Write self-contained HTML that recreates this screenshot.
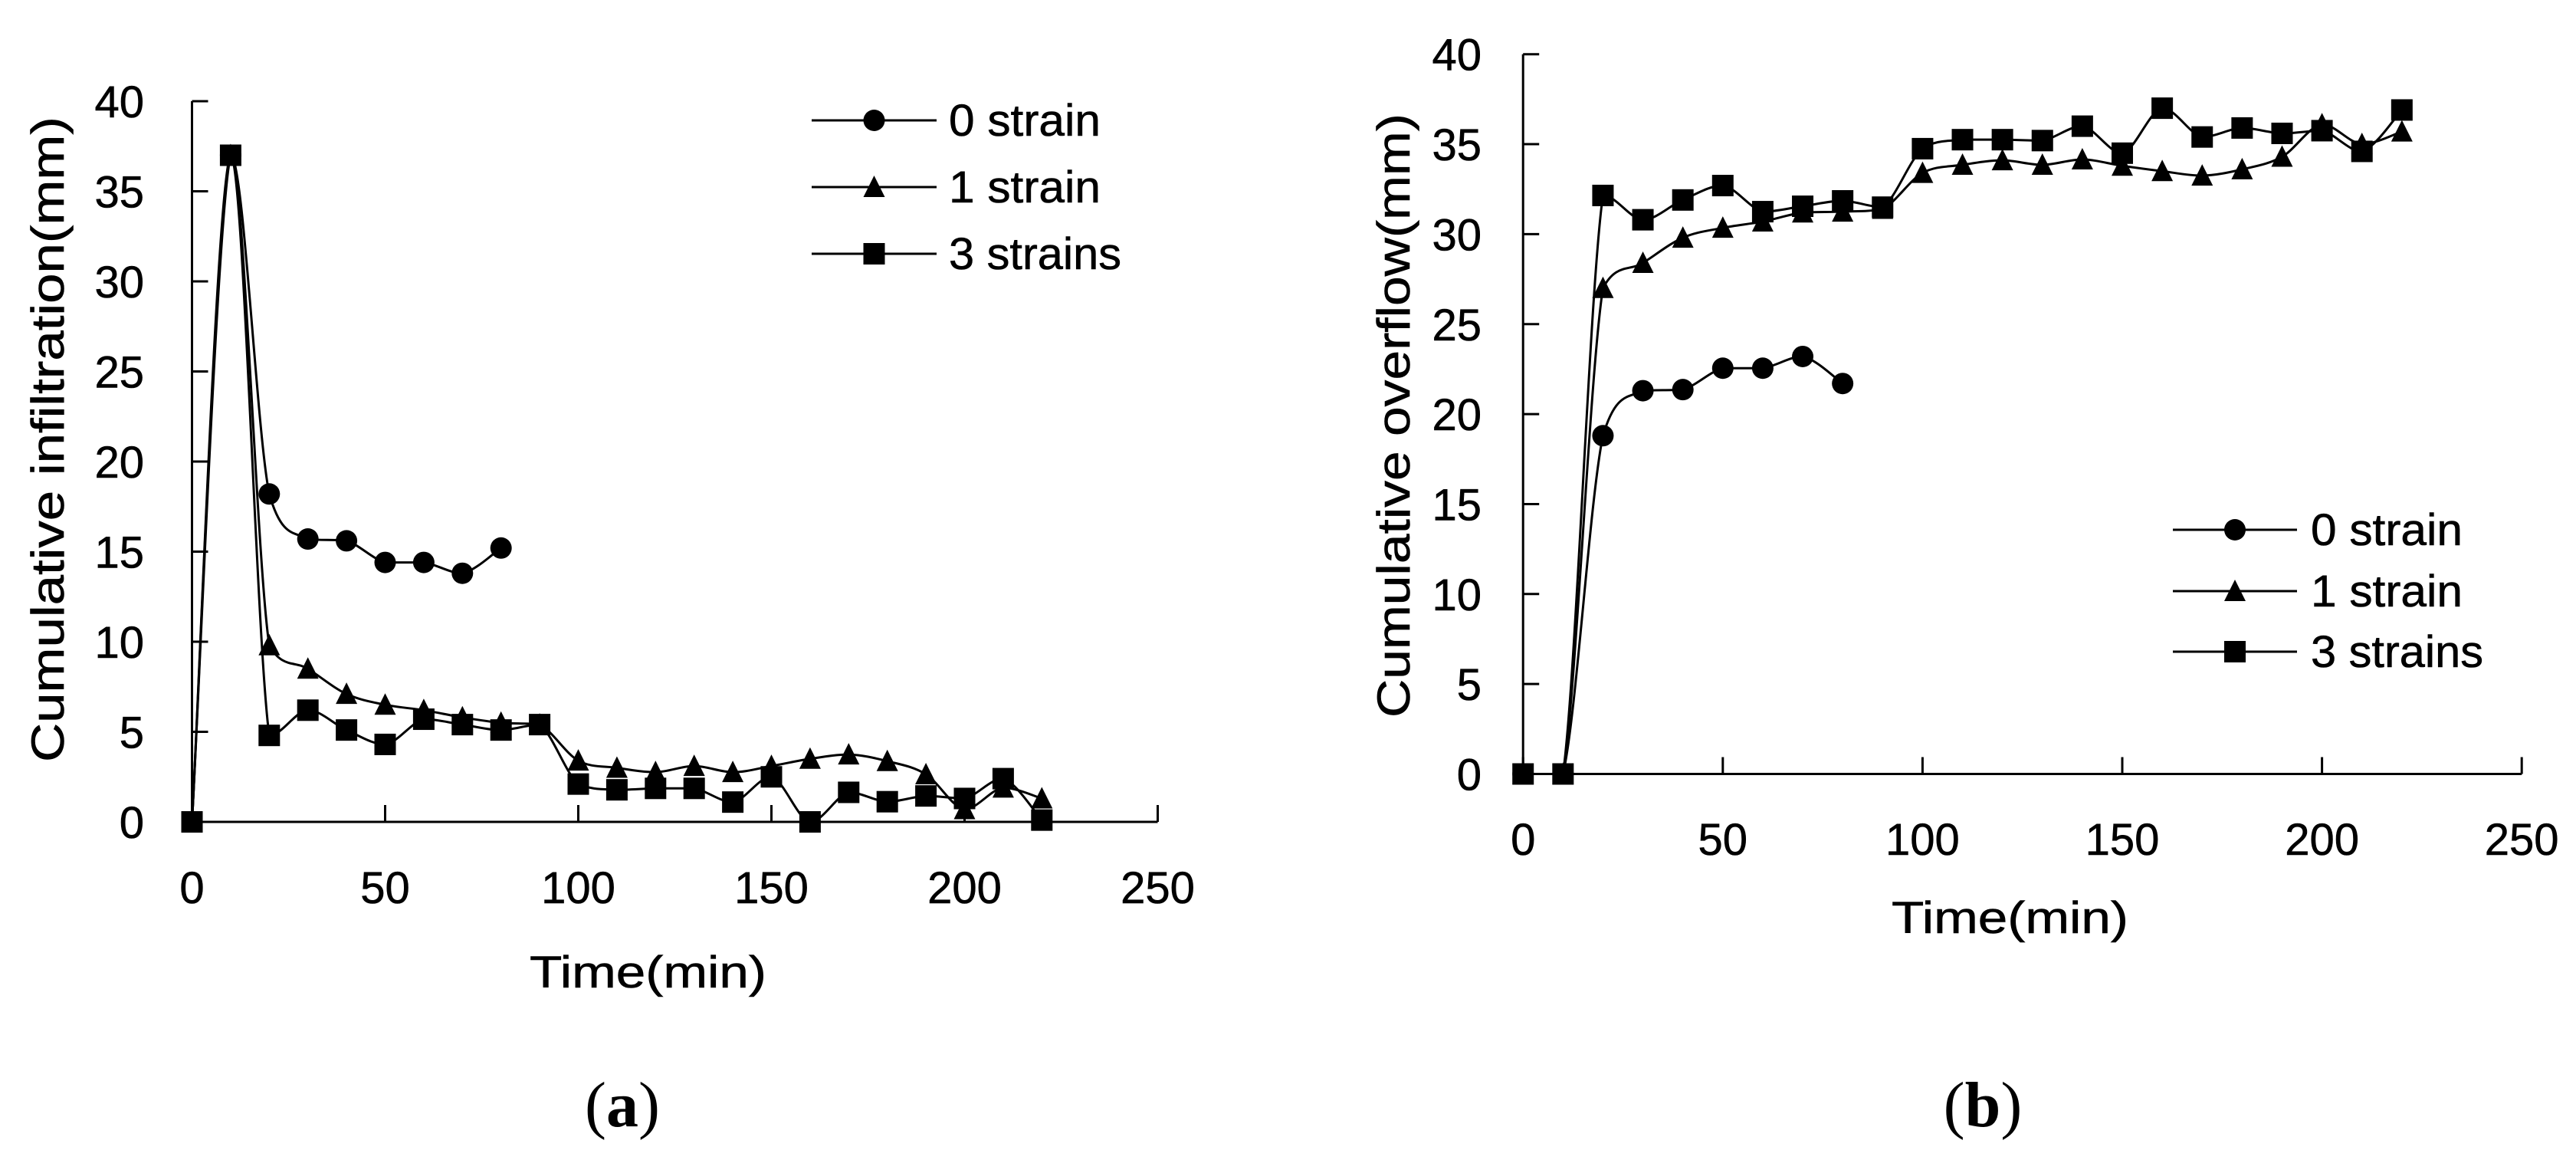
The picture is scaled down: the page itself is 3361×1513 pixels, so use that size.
<!DOCTYPE html>
<html lang="en">
<head>
<meta charset="utf-8">
<title>Cumulative infiltration and overflow charts</title>
<style>
html,body{margin:0;padding:0;background:#fff}
svg{display:block}
text{font-family:"Liberation Sans",sans-serif;fill:#000;stroke:#000;stroke-width:.6}
.cap{font-family:"Liberation Serif",serif;font-size:84px;stroke:none}
</style>
</head>
<body>
<svg id="fig" width="3361" height="1513" viewBox="0 0 3361 1513" xmlns="http://www.w3.org/2000/svg">
<text class="cap" x="812" y="1469" text-anchor="middle">(<tspan font-weight="bold">a</tspan>)</text>
<text class="cap" x="2587" y="1469" text-anchor="middle">(<tspan font-weight="bold">b</tspan>)</text>
</svg>
<script>
const times = [0,10,20,30,40,50,60,70,80,90,100,110,120,130,140,150,160,170,180,190,200,210,220];
const xTickLabels = [0,50,100,150,200,250];
const yTickLabels = [0,5,10,15,20,25,30,35,40];
const seriesNames = ['0 strain','1 strain','3 strains'];

const infiltration0 = [0,37,18.2,15.7,15.6,14.4,14.4,13.8,15.2];
const infiltration1 = [0,37,9.8,8.5,7.1,6.5,6.2,5.8,5.5,5.4,3.4,3,2.76,3.1,2.76,3.1,3.5,3.74,3.37,2.64,0.7,1.9,1.3];
const infiltration3 = [0,37,4.8,6.2,5.1,4.3,5.7,5.4,5.1,5.4,2.1,1.78,1.86,1.86,1.1,2.5,0,1.64,1.12,1.44,1.3,2.4,0.1];

const overflow0 = [0,0,18.8,21.3,21.36,22.55,22.55,23.2,21.7];
const overflow1 = [0,0,27,28.4,29.8,30.35,30.7,31.2,31.25,31.4,33.4,33.85,34.1,33.85,34.15,33.8,33.5,33.25,33.6,34.3,36.1,35,35.7];
const overflow3 = [0,0,32.15,30.8,31.9,32.7,31.25,31.55,31.85,31.5,34.75,35.25,35.25,35.2,36,34.5,37,35.4,35.9,35.6,35.75,34.6,36.9];

const NS = 'http://www.w3.org/2000/svg';
const fig = document.getElementById('fig');

function make(parent, tag, attrs, text) {
  const el = document.createElementNS(NS, tag);
  for (const k in attrs) el.setAttribute(k, attrs[k]);
  if (text !== undefined) el.textContent = text;
  parent.appendChild(el);
  return el;
}

function clampBetween(v, a, b) {
  return Math.max(Math.min(a, b), Math.min(Math.max(a, b), v));
}

function smoothPath(pts) {
  let d = 'M' + pts[0][0] + ' ' + pts[0][1];
  for (let i = 0; i < pts.length - 1; i++) {
    const p0 = pts[Math.max(i - 1, 0)];
    const p1 = pts[i];
    const p2 = pts[i + 1];
    const p3 = pts[Math.min(i + 2, pts.length - 1)];
    const c1x = p1[0] + (p2[0] - p0[0]) / 6;
    const c1y = clampBetween(p1[1] + (p2[1] - p0[1]) / 6, p1[1], p2[1]);
    const c2x = p2[0] - (p3[0] - p1[0]) / 6;
    const c2y = clampBetween(p2[1] - (p3[1] - p1[1]) / 6, p1[1], p2[1]);
    d += 'C' + c1x + ' ' + c1y + ' ' + c2x + ' ' + c2y + ' ' + p2[0] + ' ' + p2[1];
  }
  return d;
}

function drawMarker(parent, kind, cx, cy) {
  let el;
  if (kind === 0) {
    el = make(parent, 'circle', {cx: cx, cy: cy, r: 14, fill: '#000'});
  } else if (kind === 1) {
    el = make(parent, 'polygon', {points: (cx) + ',' + (cy - 15) + ' ' + (cx + 14) + ',' + (cy + 13) + ' ' + (cx - 14) + ',' + (cy + 13), fill: '#000'});
  } else {
    el = make(parent, 'rect', {x: cx - 14, y: cy - 14, width: 28, height: 28, fill: '#000'});
  }
  
  
  return el;
}

function drawChart(cfg) {
  const sx = v => cfg.x0 + v * cfg.xUnit;
  const sy = v => cfg.y0 - v * cfg.yUnit;
  const g = make(fig, 'g', {});
  
  

  const yAxis = make(g, 'line', {x1: sx(0), x2: sx(0), y1: sy(40), y2: sy(0), stroke: '#000', 'stroke-width': 3});
  
  
  const xAxis = make(g, 'line', {x1: sx(0), x2: sx(250), y1: sy(0), y2: sy(0), stroke: '#000', 'stroke-width': 3});
  
  

  yTickLabels.forEach(v => {
    const t = make(g, 'line', {x1: sx(0), x2: sx(0) + 21, y1: sy(v), y2: sy(v), stroke: '#000', 'stroke-width': 3});
    
    
    const l = make(g, 'text', {x: cfg.yLabelRight, y: sy(v) + 21, 'text-anchor': 'end', 'font-size': 58}, String(v));
    
    
  });
  xTickLabels.forEach(v => {
    const t = make(g, 'line', {x1: sx(v), x2: sx(v), y1: sy(0), y2: sy(0) - 22, stroke: '#000', 'stroke-width': 3});
    
    
    const l = make(g, 'text', {x: sx(v), y: cfg.xLabelY, 'text-anchor': 'middle', 'font-size': 58}, String(v));
    
    
  });

  const xTitle = make(g, 'text', {x: cfg.xTitleX - 154, y: cfg.xTitleY, 'font-size': 58, textLength: 309, lengthAdjust: 'spacingAndGlyphs'}, 'Time(min)');
  
  
  const yTitle = make(g, 'text', {transform: 'translate(' + cfg.yTitleX + ',' + (cfg.yTitleCy + cfg.yTitleLen / 2) + ') rotate(-90)', 'font-size': 60, textLength: cfg.yTitleLen, lengthAdjust: 'spacingAndGlyphs'}, cfg.yTitle);
  
  

  cfg.series.forEach((vals, k) => {
    const s = make(g, 'g', {});
    
    
    const pts = vals.map((v, i) => [sx(times[i]), sy(v)]);
    const line = make(s, 'path', {d: smoothPath(pts), fill: 'none', stroke: '#000', 'stroke-width': 3});
    
    
    pts.forEach(p => drawMarker(s, k, p[0], p[1]));
  });

  const lg = make(g, 'g', {});
  
  
  seriesNames.forEach((nm, k) => {
    const y = cfg.legend.ys[k];
    const e = make(lg, 'g', {});
    
    
    make(e, 'line', {x1: cfg.legend.x1, x2: cfg.legend.x2, y1: y, y2: y, stroke: '#000', 'stroke-width': 3});
    drawMarker(e, k, (cfg.legend.x1 + cfg.legend.x2) / 2, y);
    const lbl = make(e, 'text', {x: cfg.legend.tx, y: y + 20, 'font-size': 58, textLength: k === 2 ? 225 : 198, lengthAdjust: 'spacingAndGlyphs'}, nm);
    
    
  });
}

drawChart({
  name: 'chart-a-infiltration', x0: 250.5, xUnit: 5.04, y0: 1072, yUnit: 23.5,
  yLabelRight: 188, xLabelY: 1178, xTitleX: 845, xTitleY: 1288,
  yTitle: 'Cumulative infiltration(mm)', yTitleX: 83, yTitleCy: 573, yTitleLen: 842,
  series: [infiltration0, infiltration1, infiltration3],
  legend: {x1: 1059, x2: 1222, tx: 1238, ys: [157, 244, 331]}
});
drawChart({
  name: 'chart-b-overflow', x0: 1987.2, xUnit: 5.212, y0: 1009.5, yUnit: 23.47,
  yLabelRight: 1933, xLabelY: 1115, xTitleX: 2622, xTitleY: 1217,
  yTitle: 'Cumulative overflow(mm)', yTitleX: 1839, yTitleCy: 542, yTitleLen: 788,
  series: [overflow0, overflow1, overflow3],
  legend: {x1: 2835, x2: 2997, tx: 3015, ys: [691, 771, 850]}
});
</script>
</body>
</html>
